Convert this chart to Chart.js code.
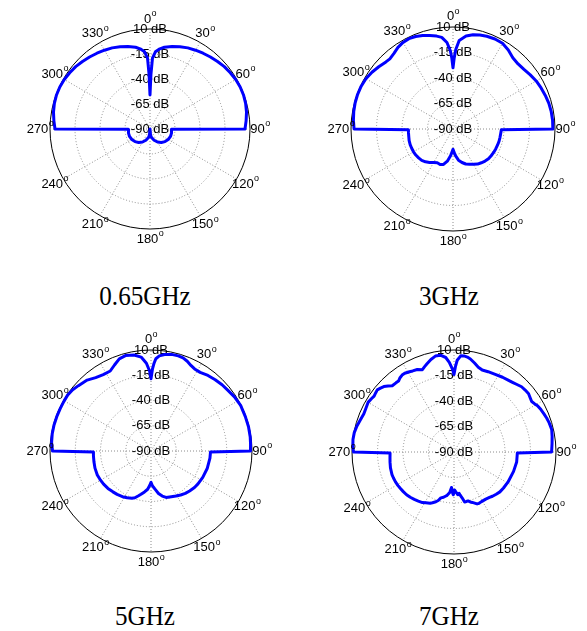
<!DOCTYPE html>
<html>
<head>
<meta charset="utf-8">
<script src="https://cdn.jsdelivr.net/npm/chart.js@4.4.1/dist/chart.umd.min.js"></script>
<style>
  html, body { margin: 0; padding: 0; background: #fff; width: 587px; height: 631px; overflow: hidden; }
  canvas.plot { position: absolute; }
  .cap { position: absolute; width: 200px; text-align: center; font-family: "Liberation Serif", "DejaVu Serif", serif; font-size: 27px; line-height: 27px; color: #000; transform: scaleX(0.93); }
</style>
</head>
<body>
<canvas id="p065" class="plot" width="270" height="270"></canvas>
<canvas id="p3" class="plot" width="270" height="270"></canvas>
<canvas id="p5" class="plot" width="270" height="270"></canvas>
<canvas id="p7" class="plot" width="270" height="270"></canvas>
<div class="cap" id="cap065">0.65GHz</div>
<div class="cap" id="cap3">3GHz</div>
<div class="cap" id="cap5">5GHz</div>
<div class="cap" id="cap7">7GHz</div>
<script>
// Radial ticks (dB) and angular tick labels (degrees, clockwise from top)
const radialTicks = [-90, -65, -40, -15, 10];
const angleTicks = [0, 30, 60, 90, 120, 150, 180, 210, 240, 270, 300, 330];

// Radiation patterns: measured angle (deg) and gain (dB)
const ang065 = [0, 1, 2, 4, 7, 10, 15, 20, 25, 30, 35, 40, 45, 50, 55, 60, 65, 70, 75, 80, 85, 90,
  91, 100, 110, 120, 130, 140, 150, 160, 170, 175, 180, 185, 190, 200, 210, 220, 230, 240, 250, 260, 269,
  270, 275, 280, 285, 290, 295, 300, 305, 310, 315, 320, 325, 330, 335, 340, 345, 350, 353, 356, 358, 359];
const db065 = [-56, -35, -19, -12.6, -9.2, -7, -4.5, -2.5, -0.5, 1, 2.5, 4, 5.5, 7, 8, 9, 9.5, 9.5, 9, 8, 6.5, 5,
  -68.6, -68.1, -68.2, -69, -70.4, -72.4, -75, -78, -81.3, -84, -90, -84, -81.3, -78, -75, -72.4, -70.4, -69, -68.2, -68.1, -68.6,
  5, 6.5, 8, 9, 9.5, 9.5, 9, 8, 7, 5.5, 4, 2.5, 1, -0.5, -2.5, -4.5, -7, -9.2, -12.6, -19, -35];

const ang3 = [0, 1, 2, 4, 8, 12, 16, 20, 25, 30, 35, 40, 45, 50, 55, 60, 65, 70, 75, 80, 85, 90,
  91, 95, 100, 105, 110, 115, 120, 125, 130, 135, 140, 145, 150, 155, 160, 165, 170, 175, 180,
  185, 190, 195, 200, 205, 210, 215, 220, 225, 230, 235, 240, 245, 250, 255, 260, 265, 269,
  270, 275, 280, 285, 290, 295, 300, 305, 310, 315, 318, 322, 326, 330, 334, 338, 342, 346, 350, 353, 356, 358, 359];
const db3 = [-30, -20, -12, -3, 2, 4.5, 5.8, 6.8, 7.4, 7, 4.5, 1.2, 0.2, 0.8, 2.5, 4.2, 5.3, 6.3, 7.3, 7.8, 8, 7.9,
  -42.6, -43, -43.2, -43.3, -43.6, -43.8, -44, -44.3, -44.6, -45.5, -46.8, -48, -50, -52, -53.5, -56, -59, -64, -70,
  -64, -58, -54, -53, -53.5, -52, -50, -48, -46.6, -46, -45.5, -45.3, -45.3, -45.3, -45.5, -46, -46.2, -46.3,
  7, 8, 8.8, 9.3, 9.5, 9.3, 8.6, 7, 5, 3, 2.5, 4, 6.5, 8, 8.5, 7.8, 6.3, 4.5, 2.5, 0.5, -5, -13, -20];

const ang5 = [0, 1, 2, 3, 5, 8, 12, 16, 19, 22, 25, 28, 32, 37, 42, 47, 52, 57, 63, 70, 76, 82, 86, 90,
  91, 97, 107, 117, 125, 130, 136, 141, 146, 151, 156, 162, 166, 170, 174, 176, 178, 180,
  182, 185, 189, 193, 196, 199, 202, 207, 212, 218, 223, 229, 235, 241, 246, 253, 259, 265, 269,
  270, 275, 280, 285, 290, 295, 300, 304, 308, 312, 318, 323, 328, 333, 337, 341, 345, 350, 354, 357, 359];
const db5 = [-18.5, -9, -3, 1.5, 4.5, 6.5, 7.8, 8, 7.5, 5.8, 3.5, 2, 1.8, 3.7, 5, 6.2, 7, 8.5, 9.6, 9.4, 9.5, 9.2, 8.8, 8.5,
  -31.1, -31.2, -31.7, -32.5, -33.2, -33.8, -35, -36, -37.5, -39.1, -40.5, -41.7, -44, -47.3, -52, -54, -56, -58.9,
  -56, -52, -49, -46, -43.6, -41, -39.5, -38, -36.6, -35.5, -34.7, -33.5, -32.7, -32.2, -31.8, -32, -32.5, -32.8, -33,
  7.5, 8.8, 9.3, 9.4, 9.3, 9.2, 9.3, 9.4, 8.4, 6.7, 4.5, 1, -0.8, -1.1, 2.5, 6.5, 7.8, 6.5, 3.5, -3, -10.8];

const ang7 = [0, 1, 2, 4, 6, 8, 10, 13, 16, 19, 23, 28, 33, 37, 40, 43, 46, 49, 52, 55, 57, 59, 61, 64, 67, 70, 73, 77, 81, 85, 90,
  91, 99, 108, 119, 126, 131, 135, 139, 142, 146, 151, 154, 156, 158, 160, 162, 164, 166, 168, 170, 172, 173, 175, 177, 179,
  181, 182, 184, 186, 189, 191, 193, 196, 198, 200, 203, 205, 209, 212, 216, 220, 224, 228, 232, 236, 239, 243, 247, 250, 256, 261, 265, 269,
  270, 273, 277, 281, 285, 289, 293, 297, 300, 303, 305, 307, 309, 311, 313, 315, 317, 320, 322, 324, 326, 328, 331, 333, 336, 339, 341, 343, 346, 349, 352, 355, 357, 359];
const db7 = [-14, -6, 0, 4.5, 4.7, 4, 2.6, -0.5, -3.5, -5, -4.5, -3.9, -2.6, -1.8, -0.8, 0.5, 2.1, 2.5, 2.8, 1.5, 0.8, 2, 3.6, 4.8, 5.8, 6.8, 7.6, 8.3, 7.4, 6.5, 5.7,
  -27.9, -27.8, -28.6, -29.4, -30, -30.4, -31.5, -32.5, -33.5, -34.3, -34.4, -34, -34.3, -36, -37.4, -38.5, -40.1, -40, -39.9, -44.4, -47.5, -49.3, -48, -50.5, -52.7,
  -48.1, -50, -55.1, -50, -47, -45.8, -44.5, -43.2, -40, -38.1, -36, -34.6, -33, -31.5, -30.5, -29.4, -28.3, -27.4, -26.9, -26.4, -26, -25.6, -25.4, -25.3, -25.8, -26.5, -27, -27.3,
  8.5, 9.3, 9.8, 9.6, 8.5, 7, 6, 6.5, 7.3, 6.3, 5.6, 6.2, 6.8, 5.5, 4.1, 1.5, -1.2, -1.5, -1.7, 0, 1, 1.1, 0, -0.8, -1.5, -3.5, -1.5, 0.5, 3.5, 5.8, 5.8, 3, -2, -9];

// One category per degree so each sample sits at its own angle
const degrees = Array.from({ length: 360 }, (_, i) => i);

function toSeries(angles, values) {
  const out = new Array(degrees.length).fill(null);
  angles.forEach((a, i) => { out[a] = values[i]; });
  return out;
}

const FONT = '"Liberation Sans", Arial, sans-serif';
const TICK_SIZE = 13;
const HALF = 135;

// Angle labels with a raised "o" as the degree sign, placed just outside the rim
const angleLabelPlugin = {
  id: 'angleLabels',
  afterDraw(chart) {
    const scale = chart.scales.r;
    const ctx = chart.ctx;
    ctx.save();
    ctx.fillStyle = '#000';
    ctx.textBaseline = 'middle';
    ctx.textAlign = 'left';
    angleTicks.forEach(a => {
      const p = scale.getPointPosition(a, scale.drawingArea * 1.1);
      const num = String(a);
      ctx.font = `${TICK_SIZE}px ${FONT}`;
      const wNum = ctx.measureText(num).width;
      ctx.font = `9px ${FONT}`;
      const wO = ctx.measureText('o').width;
      const x0 = p.x - (wNum + wO) / 2;
      ctx.font = `${TICK_SIZE}px ${FONT}`;
      ctx.fillText(num, x0, p.y);
      ctx.font = `9px ${FONT}`;
      ctx.fillText('o', x0 + wNum + 0.5, p.y - 5);
    });
    ctx.restore();
  }
};

function polarPlot(id, cx, cy, R, angles, values) {
  const canvas = document.getElementById(id);
  canvas.style.left = (cx - HALF) + 'px';
  canvas.style.top = (cy - HALF) + 'px';
  const padTop = TICK_SIZE / 2;
  const rMin = radialTicks[0];
  const rMax = radialTicks[radialTicks.length - 1];
  return new Chart(canvas, {
    type: 'radar',
    data: {
      labels: degrees,
      datasets: [{
        data: toSeries(angles, values),
        borderColor: '#0000ff',
        borderWidth: 3,
        borderJoinStyle: 'round',
        borderCapStyle: 'round',
        pointRadius: 0,
        pointHoverRadius: 0,
        pointHitRadius: 0,
        fill: false,
        tension: 0,
        spanGaps: true
      }]
    },
    options: {
      responsive: false,
      animation: false,
      events: [],
      layout: { padding: { left: HALF - R, right: HALF - R, top: HALF - R - padTop, bottom: HALF - R } },
      plugins: { legend: { display: false }, tooltip: { enabled: false } },
      scales: {
        r: {
          min: rMin,
          max: rMax,
          ticks: {
            stepSize: radialTicks[1] - radialTicks[0],
            callback: v => v + ' dB',
            showLabelBackdrop: false,
            backdropPadding: 0,
            color: '#000',
            font: { family: FONT, size: TICK_SIZE }
          },
          grid: {
            circular: true,
            color: c => (c.tick && c.tick.value === rMax) ? '#000' : '#8c8c8c',
            lineWidth: 1
          },
          border: {
            dash: c => (c.tick && c.tick.value === rMax) ? [] : [1, 2]
          },
          angleLines: {
            display: true,
            color: '#8c8c8c',
            lineWidth: c => (c.index % 30 === 0 ? 1 : 0),
            borderDash: [1, 2]
          },
          pointLabels: { display: false }
        }
      }
    },
    plugins: [angleLabelPlugin]
  });
}

polarPlot('p065', 150, 133, 107, ang065, db065);
polarPlot('p3', 453, 133, 109, ang3, db3);
polarPlot('p5', 151, 455, 108, ang5, db5);
polarPlot('p7', 454, 456, 109, ang7, db7);

// Captions under each plot
function place(id, cx, cy) {
  const el = document.getElementById(id);
  el.style.left = (cx - 100) + 'px';
  el.style.top = (cy - 14) + 'px';
}
place('cap065', 145, 297);
place('cap3', 449, 297);
place('cap5', 145, 617);
place('cap7', 449, 617);
</script>
</body>
</html>
